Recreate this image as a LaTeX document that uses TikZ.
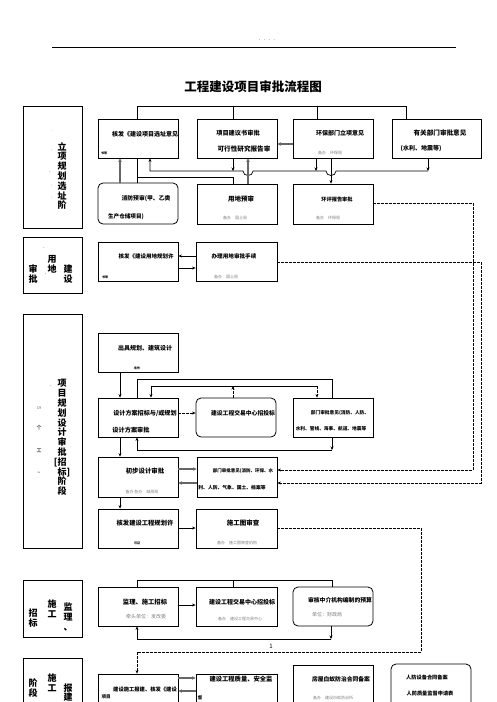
\documentclass[tikz,border=0pt]{standalone}
\usepackage{fontspec}
\setmainfont{Noto Sans CJK SC}
\usetikzlibrary{arrows.meta}
\begin{document}
\begin{tikzpicture}[x=1pt,y=-1pt,
  box/.style={draw, line width=0.8pt, minimum width=80pt, minimum height=39pt, inner sep=0pt},
  rbox/.style={box, rounded corners=5pt},
  sbox/.style={draw, line width=0.8pt, minimum width=59pt, inner sep=0pt},
  tx/.style={font=\bfseries\fontsize{#1}{#1}\selectfont, inner sep=0pt},
  tx/.default=6,
  gx/.style={font=\fontsize{4}{5}\selectfont, text=black!50, inner sep=0pt},
  gxl/.style={font=\fontsize{5}{6}\selectfont, text=black!50, inner sep=0pt},
  tn/.style={font=\bfseries\fontsize{3}{4}\selectfont, inner sep=0pt},
  st/.style={font=\bfseries\fontsize{9}{9.8}\selectfont, inner sep=0pt, align=center},
  mk/.style={font=\fontsize{4}{5}\selectfont, text=black!60, inner sep=0pt},
  ln/.style={line width=0.7pt},
  arr/.style={line width=0.7pt, -{Stealth[length=3.5pt,width=3pt]}},
  garr/.style={line width=1.4pt, draw=black!60, -{Stealth[length=3.5pt,width=3.5pt]}},
  darr/.style={line width=0.7pt, dash pattern=on 2.5pt off 1.5pt, -{Stealth[length=3.5pt,width=3pt]}}]
\useasboundingbox (0,0) rectangle (496,702);
\fill[white] (0,0) rectangle (496,702);

% header
\node[mk] (hdr) at (267,41) {·  ·  · ·};
\coordinate (hl) at (52,47);
\coordinate (hr) at (456,47);
\draw[line width=0.7pt] (hl) -- (hr);
\node[font=\bfseries\fontsize{12.5}{14}\selectfont, inner sep=0pt] (title) at (253,87) {工程建设项目审批流程图};

% stage boxes
\node[sbox, minimum height=122pt] (S1) at (52.5,167) {};
\node[st] (S1t) at (62,176) {立\\项\\规\\划\\选\\址\\阶};
\node[mk] (S1m1) at (52,131) {.};
\node[mk] (S1m2) at (52,150) {:};
\node[mk] (S1m3) at (51,172) {、};
\node[mk] (S1m4) at (52,185) {:};
\node[mk] (S1m5) at (52,197) {:};

\node[sbox, minimum height=56pt] (S2) at (52.5,265) {};
\node[st] (S2a) at (52,264) {用\\地};
\node[st] (S2b) at (33,274) {审\\批};
\node[st] (S2c) at (68,274) {建\\设};
\node[mk] (S2m1) at (45,248) {、};
\node[mk] (S2m2) at (47,274) {、};

\node[sbox, minimum height=234pt] (S3) at (52.5,431) {};
\node[st] (S3t) at (62,437.5) {项\\目\\规\\划\\设\\计\\审\\批\\\llap{[}招\\标\rlap{]}\\阶\\段};
\node[mk] (S3m0) at (52,386) {、};
\node[mk] (S3m1) at (39,408) {19};
\node[mk, font=\bfseries\fontsize{5}{6}\selectfont] (S3m2) at (39,428) {个};
\node[mk, font=\bfseries\fontsize{5}{6}\selectfont] (S3m3) at (39,451) {工};
\node[mk, font=\bfseries\fontsize{5}{6}\selectfont] (S3m4) at (39,473) {\textasciitilde};

\node[sbox, minimum height=57pt] (S4) at (52.5,608.5) {};
\node[st] (S4a) at (52,608.5) {施\\工};
\node[st] (S4b) at (33,618) {招\\标};
\node[st] (S4c) at (68,617) {监\\理\\、};

\node[sbox, minimum height=82pt] (S5) at (52.5,699) {};
\node[st] (S5a) at (52,682.5) {施\\工};
\node[st] (S5b) at (33,688) {阶\\段};
\node[st] (S5c) at (68,692.5) {报\\建};

% stage 1 boxes
\node[box] (A) at (138,138.5) {};
\node[tx] (At) at (145,134) {核发《建设项目选址意见};
\node[tn] (As) at (104,153) {书等};
\node[box] (B) at (237,138.5) {};
\node[tx=6.2] (Bt1) at (238,133) {项目建议书审批};
\node[tx=6.6] (Bt2) at (244,149) {可行性研究报告审};
\node[box] (C) at (333,138.5) {};
\node[tx] (Ct) at (340,133) {环保部门立项意见};
\node[gx] (Cg) at (330,153) {备办\quad 环保局};
\node[box, minimum width=89pt] (D) at (436.5,138.5) {};
\node[tx=6.6] (Dt1) at (440,133) {有关部门审批意见};
\node[tx] (Dt2) at (421,149) {(水利、地震等)};

\node[rbox, minimum height=41pt] (E) at (138,203.5) {};
\node[tx=5.8] (Et1) at (146,199) {消防预审(甲、乙类};
\node[tx=5.6] (Et2) at (126,217) {生产仓储项目)};
\node[box, minimum height=40pt] (F) at (237,204) {};
\node[tx=6.5] (Ft) at (241,199) {用地预审};
\node[gx] (Fg) at (235,218) {备办\quad 国土局};
\node[box, minimum height=40pt] (G) at (333,204) {};
\node[tx=5.2] (Gt) at (337,199) {环评报告审批};
\node[gx] (Gg) at (328,218) {备办\quad 环保局};

% stage 2 boxes
\node[box] (H) at (138,261.5) {};
\node[tx=5.5] (Ht) at (146,256) {核发《建设用地规划许};
\node[tn] (Hs) at (105,277) {书等};
\node[box, minimum width=81pt] (I) at (236.5,261.5) {};
\node[tx=5.6] (It) at (234,256) {办理用地审批手续};
\node[gx] (Ig) at (226,277) {备办\quad 国土局};

% stage 3 boxes
\node[box] (J) at (138,352.5) {};
\node[tx] (Jt) at (145,348) {出具规划、建筑设计};
\node[tn] (Js) at (137,368) {条件};
\node[box] (K) at (138,417.5) {};
\node[tx=6.1] (Kt1) at (145,413) {设计方案招标与/或规划};
\node[tx=6.2] (Kt2) at (131,430) {设计方案审批};
\node[rbox] (L) at (236,417.5) {};
\node[tx=5.8] (Lt) at (243,413) {建设工程交易中心招投标};
\node[box] (M) at (333,417.5) {};
\node[tx=4.7] (Mt1) at (340,413) {部门审批意见(消防、人防、};
\node[tx=4.7] (Mt2) at (331,429) {水利、管线、海事、航道、地震等};
\node[box, minimum height=40pt] (N) at (138,477) {};
\node[tx=6.4] (Nt) at (145,471) {初步设计审批};
\node[gx] (Ng) at (142,492) {备办\ 各办\quad 城规局};
\node[box, minimum height=40pt] (O) at (237,477) {};
\node[tx=4.5] (Ot1) at (243,471) {部门审批意见(消防、环保、水};
\node[tx=4.8] (Ot2) at (232,488) {利、人防、气象、国土、档案等};
\node[box] (P) at (138,528.5) {};
\node[tx=6.3] (Pt) at (145,523) {核发建设工程规划许};
\node[tn] (Ps) at (137,543) {可证};
\node[box, minimum width=81pt] (Q) at (236.5,528.5) {};
\node[tx=6.5] (Qt) at (243,523) {施工图审查};
\node[gx] (Qg) at (237,543) {备办\quad 施工图审查机构};

% stage 4 boxes
\node[box] (R) at (138,606.5) {};
\node[tx=6.3] (Rt) at (145,602) {监理、施工招标};
\node[gxl] (Rg) at (146,617) {牵头单位：发改委};
\node[box, minimum width=81pt] (S) at (236.5,606.5) {};
\node[tx=6] (St) at (242,602) {建设工程交易中心招投标};
\node[gx] (Sg) at (240,619) {备办\quad 建设工程交易中心};
\node[rbox] (T) at (333,606.5) {};
\node[tx=5.8] (Tt) at (340,600) {审核中介机构编制的预算};
\node[gxl] (Tg) at (327,615) {单位：财政局};

% stage 5 boxes
\node[box] (U) at (138,693.5) {};
\node[tx=5.3] (Ut) at (145,689) {建设施工报建、核发《建设};
\node[tx=4.5] (Us) at (106,697) {项目};
\node[box, minimum width=81pt] (V) at (236.5,693.5) {};
\node[tx=6.3] (Vt) at (241,679) {建设工程质量、安全监};
\node[tx=4.5] (Vs) at (200,698) {督};
\node[box, minimum height=45pt] (W) at (333,687.5) {};
\node[tx=5.8] (Wt) at (341,679) {房屋白蚁防治合同备案};
\node[gx] (Wg) at (333,698) {备办\quad 建设白蚁防治所};
\node[rbox, minimum height=44pt] (X) at (431,686) {};
\node[tx=5.2] (Xt1) at (427,677) {人防设备合同备案};
\node[tx=5.2] (Xt2) at (430,693) {人防质量监督申请表};

% ---- connectors stage 1
\draw[ln] (137,0 |- A.north) -- (137,106) -- (406,106) -- (406,0 |- D.north);
\draw[ln] (233,106) -- (233,0 |- B.north);
\draw[ln] (317,106) -- (317,0 |- C.north);
\draw[garr] (120,0 |- E.north) -- (120,0 |- A.south);
\draw[ln] (137,0 |- A.south) -- (137,0 |- E.north);
\draw[ln] (137,177) -- (233,177) -- (233,0 |- F.north);
\draw[arr] (428,171) -- (336,171) .. controls (336,177) and (326,177) .. (326,171) -- (253,171) .. controls (253,177) and (243,177) .. (243,171) -- (150,171) -- (150,0 |- A.south);
\draw[arr] (428,0 |- D.south) -- (428,171);
\draw[arr] (233,0 |- B.south) -- (233,171);
\draw[arr] (316,0 |- C.south) -- (316,171);
\draw[garr] (248,0 |- F.north) -- (248,0 |- B.south);
\draw[arr] (331,0 |- C.south) -- (331,0 |- G.north);
\draw[garr] (C.west |- 0,144) -- (B.east |- 0,144);
\draw[darr] (G.east |- 0,203) -- (473,203) -- (473,470) -- (O.east |- 0,470);
\draw[darr] (I.east |- 0,262) -- (481,262) -- (481,483) -- (O.east |- 0,483);

% stage 2
\draw[arr] (I.west |- 0,256) -- (H.east |- 0,256);
\draw[arr] (H.east |- 0,268) -- (I.west |- 0,268);

% stage 3
\draw[arr] (120,0 |- J.south) -- (120,0 |- K.north);
\draw[darr] (K.east |- 0,413) -- (L.west |- 0,413);
\draw[ln] (137,0 |- K.north) -- (137,379) -- (332,379) -- (332,0 |- M.north);
\draw[arr] (332,0 |- M.south) -- (332,450);
\draw[arr] (332,450) -- (137,450) -- (137,0 |- K.south);
\draw[ln] (151,386) -- (317,386);
\draw[arr] (151,386) -- (151,0 |- K.north);
\draw[darr] (317,386) -- (317,0 |- M.north);
\draw[darr] (233,0 |- L.north) -- (233,386);
\draw[arr] (120,0 |- K.south) -- (120,0 |- N.north);
\draw[garr] (N.east |- 0,469) -- (O.west |- 0,469);
\draw[garr] (O.west |- 0,483) -- (N.east |- 0,483);
\draw[arr] (120,0 |- N.south) -- (120,0 |- P.north);
\draw[arr] (P.east |- 0,528) -- (Q.west |- 0,528);
\draw[darr] (Q.east |- 0,528) -- (421,528) -- (421,652) -- (137,652) -- (137,0 |- U.north);
\node[font=\fontsize{6}{7}\selectfont, inner sep=0pt] (one) at (271,646) {1};

% stage 4
\draw[ln] (137,0 |- R.north) -- (137,580) -- (332,580) -- (332,0 |- T.north);
\draw[ln] (233,580) -- (233,0 |- S.north);
\draw[arr] (R.east |- 0,605) -- (S.west |- 0,605);
\draw[arr] (331,0 |- T.south) -- (331,639);
\draw[arr] (331,639) -- (137,639) -- (137,0 |- R.south);

% stage 5
\draw[garr] (U.east |- 0,678) -- (V.west |- 0,678);
\draw[garr] (V.west |- 0,691) -- (U.east |- 0,691);
\end{tikzpicture}
\end{document}
